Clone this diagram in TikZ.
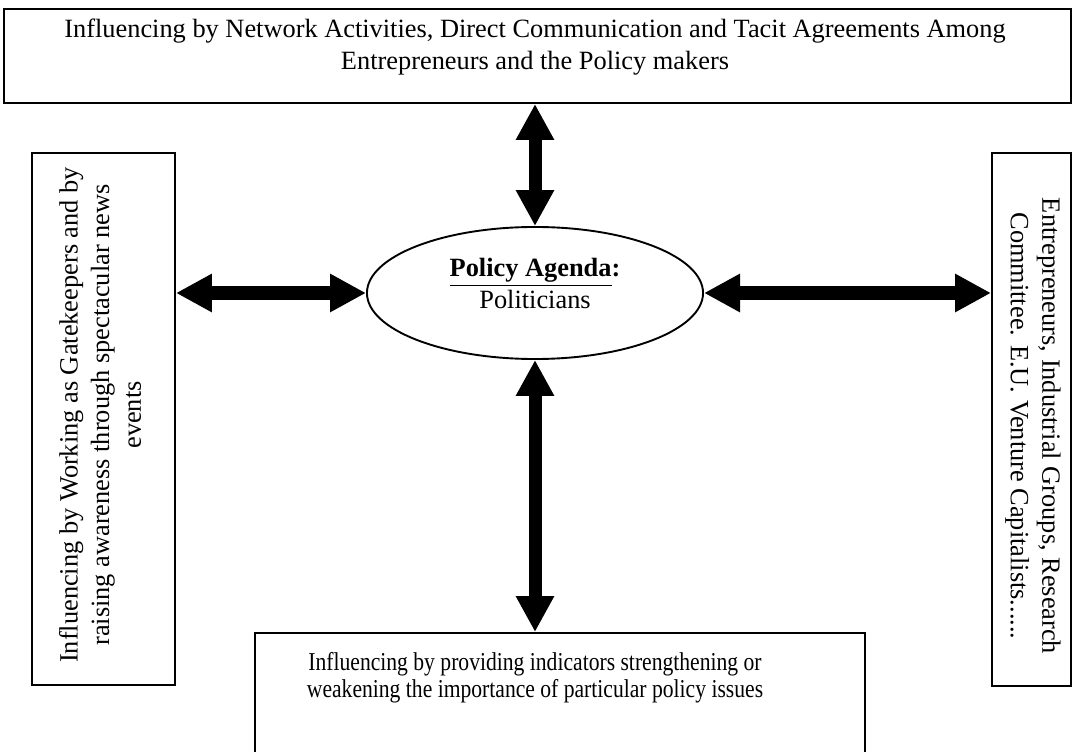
\documentclass[tikz,border=0pt]{standalone}
\usepackage{fontspec}
\setmainfont{Liberation Serif}
\newfontfamily\narrowserif[FakeStretch=0.84]{Liberation Serif}
\usetikzlibrary{shapes.geometric,arrows.meta}

\tikzset{
  box/.style={draw, line width=0.9pt, rectangle, inner sep=0pt},
  txt/.style={align=center, inner sep=0pt, font=\fontsize{12.5}{15}\selectfont},
  narrowtxt/.style={align=center, inner sep=0pt, font=\narrowserif\fontsize{12.2}{12.6}\selectfont},
  twoway/.style={line width=0.2167cm,
    {Triangle[length=0.6cm,width=0.6cm]}-{Triangle[length=0.6cm,width=0.6cm]}},
}

\begin{document}
\begin{tikzpicture}[x=0.016667cm, y=-0.016667cm]
\useasboundingbox (0,0) rectangle (1075,752);

\node[box, minimum width=17.783cm, minimum height=1.567cm] (network) at (537.5,56) {};
\node[txt] (networktext) at (535,47) {Influencing by Network Activities, Direct Communication and Tacit Agreements Among\\ Entrepreneurs and the Policy makers};

\node[draw, line width=0.9pt, ellipse, inner sep=0pt, minimum width=5.6cm, minimum height=2.2cm, txt] (agenda) at (535,293) {\textbf{\underline{Policy Agenda}:}\\ Politicians\\[-6pt]};

\node[box, minimum width=2.383cm, minimum height=8.867cm] (media) at (103.5,419) {};
\node[txt, rotate=90] (mediatext) at (100,415) {Influencing by Working as Gatekeepers and by\\ raising awareness through spectacular news\\ events};

\node[box, minimum width=1.317cm, minimum height=8.883cm] (actors) at (1031.5,419.5) {};
\node[txt, rotate=-90] (actorstext) at (1033,426) {Entrepreneurs, Industrial Groups, Research\\ Committee. E.U. Venture Capitalists......};

\node[box, minimum width=10.167cm, minimum height=2.45cm] (indicators) at (560,706.5) {};
\node[narrowtxt] (indicatorstext) at (535,678) {Influencing by providing indicators strengthening or\\ weakening the importance of particular policy issues};

\draw[twoway] (agenda.north |- network.south) -- (agenda.north);
\draw[twoway] (media.east |- agenda.west) -- (agenda.west);
\draw[twoway] (agenda.east) -- (agenda.east -| actors.west);
\draw[twoway] (agenda.south) -- (agenda.south |- indicators.north);
\end{tikzpicture}
\end{document}
